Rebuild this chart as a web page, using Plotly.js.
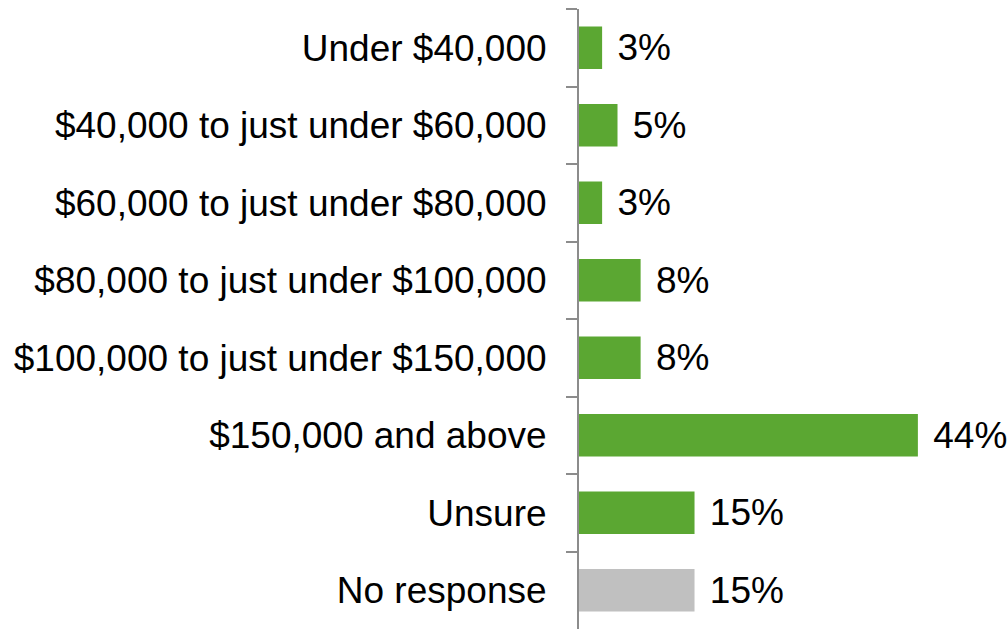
<!DOCTYPE html>
<html>
<head>
<meta charset="utf-8">
<script src="https://cdn.plot.ly/plotly-3.0.1.min.js"></script>
<style>
  html, body { margin: 0; padding: 0; background: #fff; }
  #chart { width: 1008px; height: 629px; }
</style>
</head>
<body>
<div id="chart"></div>
<script>
// Income brackets, top to bottom
const categories = [
    'Under $40,000',
    '$40,000 to just under $60,000',
    '$60,000 to just under $80,000',
    '$80,000 to just under $100,000',
    '$100,000 to just under $150,000',
    '$150,000 and above',
    'Unsure',
    'No response'
];
const values = [3, 5, 3, 8, 8, 44, 15, 15];
const barColors = ['#5ba732', '#5ba732', '#5ba732', '#5ba732', '#5ba732', '#5ba732', '#5ba732', '#c0c0c0'];

const trace = {
    type: 'bar',
    orientation: 'h',
    x: values,
    y: categories,
    marker: { color: barColors },
    width: 0.55,
    text: values.map(v => '\u2004' + v + '%'),
    textposition: 'outside',
    textfont: { family: 'Liberation Sans, Arial, sans-serif', size: 37, color: '#000' },
    cliponaxis: false,
    hoverinfo: 'none'
};

const layout = {
    width: 1008,
    height: 629,
    margin: { l: 579, r: 0, t: 9, b: 0 },
    paper_bgcolor: '#fff',
    plot_bgcolor: '#fff',
    showlegend: false,
    font: { family: 'Liberation Sans, Arial, sans-serif', size: 37, color: '#000' },
    xaxis: {
        range: [0, 55.7],
        visible: false,
        showgrid: false,
        zeroline: false
    },
    yaxis: {
        autorange: 'reversed',
        showline: true,
        linecolor: '#8c8c8c',
        linewidth: 2,
        ticks: 'outside',
        tickson: 'boundaries',
        ticklen: 11,
        tickwidth: 2,
        tickcolor: '#8c8c8c',
        ticklabelstandoff: 23,
        showgrid: false,
        tickfont: { size: 37, color: '#000' }
    }
};

Plotly.newPlot('chart', [trace], layout, { displayModeBar: false, staticPlot: true });
</script>
</body>
</html>
